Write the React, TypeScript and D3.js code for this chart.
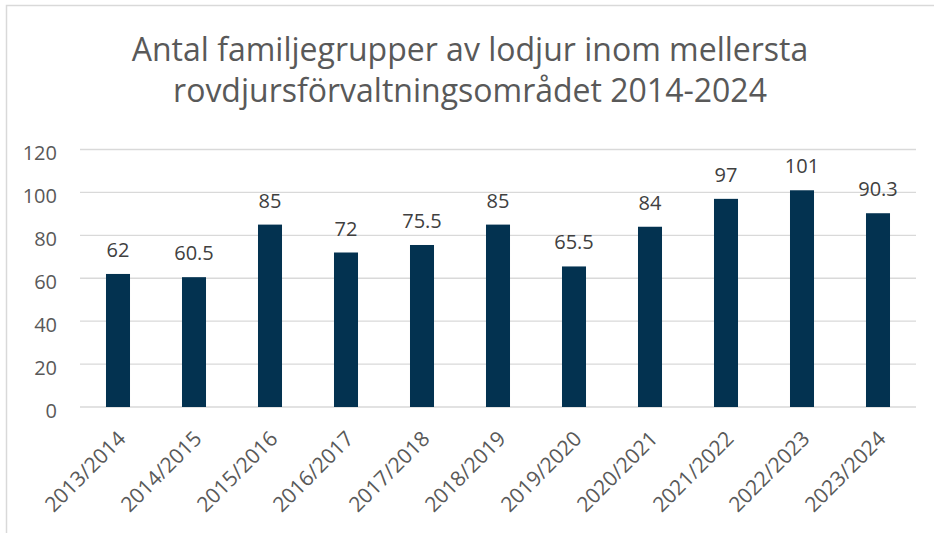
import React, { useEffect, useRef } from "react";
import { select, scaleBand, scaleLinear, axisLeft } from "d3";

const seasons = [
  "2013/2014",
  "2014/2015",
  "2015/2016",
  "2016/2017",
  "2017/2018",
  "2018/2019",
  "2019/2020",
  "2020/2021",
  "2021/2022",
  "2022/2023",
  "2023/2024",
];
const familyGroups = [62, 60.5, 85, 72, 75.5, 85, 65.5, 84, 97, 101, 90.3];
const yTicks = [0, 20, 40, 60, 80, 100, 120];
const titleLines = [
  "Antal familjegrupper av lodjur inom mellersta",
  "rovdjursförvaltningsområdet 2014-2024",
];

const FONT = "'Open Sans', 'Noto Sans', sans-serif";

const App = () => {
  const svgRef = useRef<SVGSVGElement | null>(null);

  const dims = {
    width: 934,
    height: 533,
    plotLeft: 80,
    plotRight: 916,
    plotTop: 149.5,
    plotBottom: 407,
  };

  useEffect(() => {
    const svg = select(svgRef.current);
    svg.selectAll("*").remove();

    // outer chart border (cropped at right and bottom)
    svg
      .append("rect")
      .attr("x", 6.5)
      .attr("y", 5.5)
      .attr("width", 1000)
      .attr("height", 1000)
      .attr("fill", "none")
      .attr("stroke", "#d9d9d9")
      .attr("stroke-width", 1.5);

    // title
    svg
      .append("g")
      .selectAll("text")
      .data(titleLines)
      .enter()
      .append("text")
      .attr("x", 470)
      .attr("y", (_, i) => 61 + i * 41)
      .attr("text-anchor", "middle")
      .attr("font-family", FONT)
      .attr("font-size", 32)
      .attr("fill", "#595959")
      .text((d) => d);

    const x = scaleBand()
      .domain(seasons)
      .range([dims.plotLeft, dims.plotRight])
      .paddingInner(0.684)
      .paddingOuter(0.342);

    const y = scaleLinear()
      .domain([0, 120])
      .range([dims.plotBottom, dims.plotTop]);

    // gridlines
    svg
      .append("g")
      .selectAll("line")
      .data(yTicks)
      .enter()
      .append("line")
      .attr("x1", dims.plotLeft)
      .attr("x2", dims.plotRight)
      .attr("y1", (d) => y(d))
      .attr("y2", (d) => y(d))
      .attr("stroke", "#d9d9d9")
      .attr("stroke-width", 1.3);

    // y axis labels
    const yAxis = axisLeft(y).tickValues(yTicks).tickSize(0).tickPadding(23);
    const gy = svg
      .append("g")
      .attr("transform", `translate(${dims.plotLeft},0)`)
      .call(yAxis);
    gy.select(".domain").remove();
    gy.selectAll("text")
      .attr("font-family", FONT)
      .attr("font-size", 20)
      .attr("fill", "#595959")
      .attr("dy", "0.5em");

    // bars
    svg
      .append("g")
      .selectAll("rect")
      .data(familyGroups)
      .enter()
      .append("rect")
      .attr("x", (_, i) => x(seasons[i]) as number)
      .attr("y", (d) => y(d))
      .attr("width", x.bandwidth())
      .attr("height", (d) => y(0) - y(d))
      .attr("fill", "#033250");

    // value labels
    svg
      .append("g")
      .selectAll("text")
      .data(familyGroups)
      .enter()
      .append("text")
      .attr("x", (_, i) => (x(seasons[i]) as number) + x.bandwidth() / 2)
      .attr("y", (d) => y(d) - 17)
      .attr("text-anchor", "middle")
      .attr("font-family", FONT)
      .attr("font-size", 20)
      .attr("fill", "#404040")
      .text((d) => String(d));

    // rotated category labels
    svg
      .append("g")
      .selectAll("text")
      .data(seasons)
      .enter()
      .append("text")
      .attr("transform", (d) => {
        const cx = (x(d) as number) + x.bandwidth() / 2 + 9;
        return `translate(${cx},${dims.plotBottom + 33}) rotate(-45)`;
      })
      .attr("text-anchor", "end")
      .attr("font-family", FONT)
      .attr("font-size", 21)
      .attr("fill", "#595959")
      .text((d) => d);
  }, []);

  return (
    <svg
      ref={svgRef}
      width={dims.width}
      height={dims.height}
      style={{ position: "absolute", left: 0, top: 0, background: "#fff" }}
    ></svg>
  );
};

export default App;
